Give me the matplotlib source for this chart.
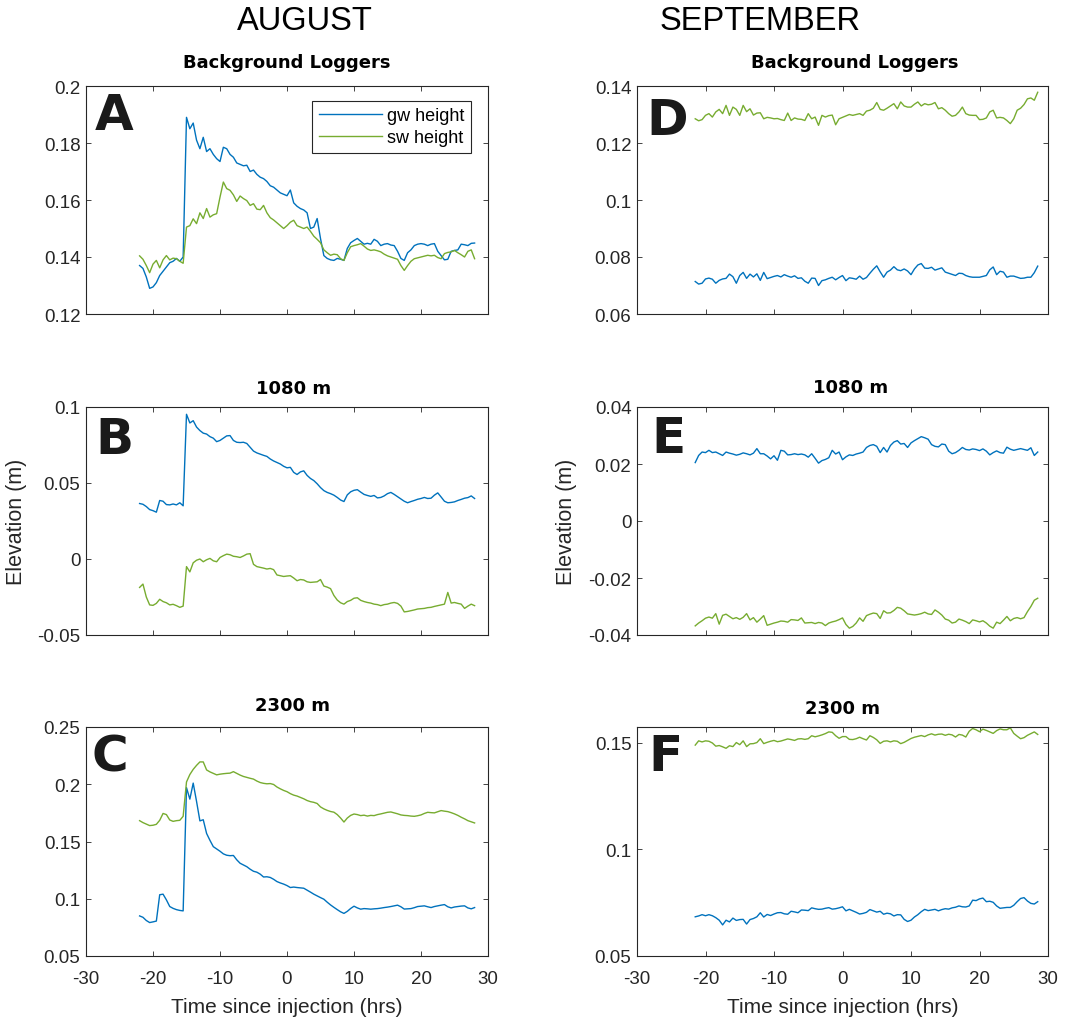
import numpy as np
import matplotlib as mpl
from matplotlib import pyplot as plt
from matplotlib.ticker import FuncFormatter

# Matlab-like look
mpl.rc('font', family=['Liberation Sans', 'DejaVu Sans'])
mpl.rc('axes', unicode_minus=False)

GW_COLOR = '#0072BD'
SW_COLOR = '#77AC30'
AX_COLOR = '#262626'

# Logger times (hrs since injection), one reading every 30 min
aug_time = np.arange(-22, 28.01, 0.5)
sep_time = np.arange(-21.5, 28.51, 0.5)

# AUGUST - background loggers (m)
aug_bg_gw = [0.137, 0.136, 0.133, 0.129, 0.1295, 0.131, 0.1335, 0.135, 0.1365, 0.138,
             0.1385, 0.1395, 0.1385, 0.140, 0.189, 0.185, 0.187, 0.181, 0.178, 0.182,
             0.177, 0.178, 0.176, 0.1745, 0.1735, 0.1785, 0.178, 0.176, 0.175, 0.173,
             0.1725, 0.172, 0.1722, 0.170, 0.1705, 0.169, 0.168, 0.1675, 0.1665, 0.165,
             0.1645, 0.1635, 0.1625, 0.162, 0.1615, 0.1635, 0.159, 0.1578, 0.157, 0.1565,
             0.1555, 0.150, 0.1505, 0.1535, 0.1465, 0.1405, 0.1395, 0.139, 0.1388, 0.1395,
             0.1392, 0.1388, 0.143, 0.145, 0.1458, 0.1465, 0.1455, 0.1445, 0.1448, 0.1445,
             0.1462, 0.1455, 0.144, 0.1445, 0.1447, 0.1442, 0.144, 0.142, 0.1395, 0.1388,
             0.1415, 0.1425, 0.144, 0.1445, 0.1447, 0.1445, 0.144, 0.1445, 0.1447, 0.142,
             0.1405, 0.139, 0.1392, 0.142, 0.1423, 0.1425, 0.1445, 0.1443, 0.144, 0.1448,
             0.1449]
aug_bg_sw = [0.1404, 0.1392, 0.137, 0.1345, 0.1375, 0.1388, 0.1362, 0.139, 0.1405, 0.139,
             0.1396, 0.1394, 0.1385, 0.1378, 0.1505, 0.151, 0.1534, 0.1517, 0.1555, 0.1535,
             0.157, 0.154, 0.1548, 0.1552, 0.161, 0.1663, 0.164, 0.1634, 0.1618, 0.1595,
             0.1614, 0.1605, 0.1598, 0.1581, 0.1587, 0.1568, 0.1566, 0.1581, 0.1555, 0.1538,
             0.153, 0.152, 0.151, 0.150, 0.151, 0.1522, 0.1529, 0.151, 0.1505, 0.150,
             0.1505, 0.149, 0.1473, 0.1462, 0.145, 0.1425, 0.1415, 0.1406, 0.141, 0.1408,
             0.1394, 0.1388, 0.1415, 0.1436, 0.144, 0.1443, 0.1447, 0.1438, 0.1428, 0.1423,
             0.1425, 0.1422, 0.1418, 0.141, 0.1404, 0.14, 0.1396, 0.1392, 0.137, 0.1353,
             0.137, 0.1385, 0.1394, 0.1397, 0.14, 0.1403, 0.1406, 0.1404, 0.1406, 0.1398,
             0.1394, 0.1412, 0.1416, 0.1418, 0.1423, 0.1415, 0.1408, 0.14, 0.142, 0.1425,
             0.1394]

# AUGUST - 1080 m
aug_1080_gw = [0.0365, 0.036, 0.0345, 0.0325, 0.0318, 0.0308, 0.0385, 0.038, 0.0358, 0.0356,
               0.0362, 0.0356, 0.037, 0.035, 0.0952, 0.0895, 0.091, 0.0868, 0.0845, 0.0828,
               0.0822, 0.0805, 0.0795, 0.0772, 0.078, 0.0795, 0.081, 0.0812, 0.078, 0.0768,
               0.0766, 0.0768, 0.076, 0.0735, 0.071, 0.0698, 0.069, 0.0682, 0.0675, 0.0658,
               0.0645, 0.0635, 0.0625, 0.061, 0.06, 0.0603, 0.057, 0.0556, 0.0573, 0.058,
               0.055, 0.053, 0.0516, 0.0495, 0.047, 0.045, 0.0438, 0.043, 0.042, 0.0405,
               0.0388, 0.0378, 0.0422, 0.0442, 0.0452, 0.0456, 0.044, 0.0425, 0.0418, 0.0412,
               0.0418, 0.0402, 0.0405, 0.0415, 0.043, 0.0438, 0.0425, 0.041, 0.0395, 0.038,
               0.037, 0.0378, 0.0385, 0.0393, 0.0398, 0.0405, 0.0398, 0.04, 0.042, 0.0435,
               0.0408, 0.038, 0.037, 0.0372, 0.0376, 0.0385, 0.0392, 0.04, 0.0404, 0.0415,
               0.0398]
aug_1080_sw = [-0.0187, -0.0165, -0.025, -0.0302, -0.0305, -0.0292, -0.0265, -0.028, -0.0288, -0.0302,
               -0.0298, -0.0307, -0.0318, -0.031, -0.005, -0.0085, -0.0025, -0.0008, 0.0, -0.0018,
               -0.0005, 0.0004, -0.0012, -0.0018, 0.001, 0.0022, 0.0032, 0.0028, 0.0018, 0.0015,
               0.001, 0.002, 0.0032, 0.0035, -0.0035, -0.005, -0.0055, -0.006, -0.0066, -0.0062,
               -0.007, -0.0105, -0.011, -0.0115, -0.0112, -0.011, -0.0125, -0.0143, -0.0135, -0.0138,
               -0.015, -0.0154, -0.0152, -0.015, -0.0135, -0.0178, -0.0185, -0.0195, -0.024, -0.027,
               -0.0288, -0.0297, -0.028, -0.0272, -0.0258, -0.0255, -0.0272, -0.028, -0.0286, -0.029,
               -0.0297, -0.03, -0.0307, -0.03, -0.0297, -0.029, -0.0286, -0.0292, -0.031, -0.0348,
               -0.0345, -0.034, -0.0335, -0.0329, -0.0327, -0.0325, -0.032, -0.0318, -0.0312, -0.0307,
               -0.0302, -0.0297, -0.022, -0.029, -0.0286, -0.0292, -0.0297, -0.0325, -0.031, -0.0297,
               -0.0307]

# AUGUST - 2300 m
aug_2300_gw = [0.085, 0.0838, 0.081, 0.0792, 0.0798, 0.0805, 0.1035, 0.104, 0.099, 0.0932,
               0.0916, 0.0905, 0.0898, 0.0894, 0.197, 0.187, 0.201, 0.185, 0.168, 0.169,
               0.157, 0.151, 0.1455, 0.1435, 0.1415, 0.1392, 0.138, 0.1376, 0.1378, 0.134,
               0.131, 0.1295, 0.128, 0.1258, 0.124, 0.1232, 0.1215, 0.119, 0.1192, 0.1186,
               0.117, 0.115, 0.1138, 0.1128, 0.1115, 0.1098, 0.1102, 0.1098, 0.1095, 0.1092,
               0.1075, 0.1058, 0.104, 0.1025, 0.101, 0.0996, 0.097, 0.0946, 0.0925, 0.0905,
               0.0886, 0.0872, 0.089, 0.0915, 0.0935, 0.092, 0.0909, 0.0914, 0.0912, 0.0909,
               0.0912, 0.0914, 0.0918, 0.0923, 0.0927, 0.0932, 0.0938, 0.0944, 0.093, 0.091,
               0.0912, 0.0914, 0.0922, 0.0932, 0.0935, 0.0938, 0.093, 0.0923, 0.0932, 0.0938,
               0.0944, 0.0949, 0.093, 0.092, 0.0928, 0.0932, 0.0936, 0.0938, 0.092, 0.0912,
               0.0923]
aug_2300_sw = [0.1682, 0.1665, 0.1652, 0.1639, 0.1642, 0.165, 0.1685, 0.1745, 0.1735, 0.1688,
               0.1676, 0.1682, 0.1685, 0.172, 0.202, 0.2085, 0.213, 0.2165, 0.2195, 0.2195,
               0.2125, 0.2108, 0.2095, 0.2082, 0.2088, 0.2092, 0.2095, 0.2097, 0.211, 0.2095,
               0.208, 0.2068, 0.206, 0.2052, 0.2045, 0.2028, 0.2015, 0.2008, 0.2004, 0.2006,
               0.1998, 0.1976, 0.196, 0.1946, 0.1935, 0.1918, 0.1905, 0.1897, 0.1885, 0.1873,
               0.1858, 0.1848, 0.1842, 0.1832, 0.1802, 0.1785, 0.1772, 0.1762, 0.1756, 0.1735,
               0.1705, 0.167, 0.1705, 0.1728, 0.174, 0.1735, 0.1726, 0.173, 0.1722, 0.1728,
               0.1726, 0.1735, 0.1741, 0.1748, 0.1755, 0.1758, 0.175, 0.1742, 0.1732, 0.1728,
               0.1726, 0.1722, 0.172, 0.1725, 0.1732, 0.1745, 0.1755, 0.1752, 0.175, 0.176,
               0.177, 0.1765, 0.1761, 0.1752, 0.1741, 0.1728, 0.1712, 0.1698, 0.1682, 0.1672,
               0.1662]

# SEPTEMBER - background loggers
sep_bg_gw = [0.0714, 0.0705, 0.0708, 0.0723, 0.0726, 0.0722, 0.0708, 0.0718, 0.0723, 0.0725,
             0.074, 0.0731, 0.0708, 0.0735, 0.0746, 0.0725, 0.074, 0.073, 0.0741, 0.0718,
             0.0746, 0.0724, 0.0728, 0.0732, 0.0735, 0.073, 0.0738, 0.0733, 0.0729, 0.0734,
             0.0725, 0.0727, 0.0715, 0.0708, 0.0726, 0.0725, 0.07, 0.0717, 0.072, 0.0725,
             0.0729, 0.072, 0.0728, 0.0735, 0.0717, 0.0727, 0.0725, 0.0722, 0.0733, 0.0722,
             0.0728, 0.0743, 0.0757, 0.0769, 0.0748, 0.0729, 0.0747, 0.0754, 0.0766, 0.0755,
             0.0752, 0.0758, 0.0751, 0.0738, 0.0758, 0.0772, 0.0777, 0.0761, 0.076, 0.0764,
             0.0754, 0.0758, 0.0762, 0.0747, 0.0743, 0.0739, 0.0735, 0.0743, 0.0742, 0.0735,
             0.0731, 0.0729, 0.0729, 0.0729, 0.0732, 0.0735, 0.0755, 0.0765, 0.0738, 0.075,
             0.0747, 0.0729, 0.0733, 0.0733, 0.0729, 0.0725, 0.0726, 0.0729, 0.0729, 0.0745,
             0.0768]
sep_bg_sw = [0.1285, 0.1278, 0.1282, 0.1297, 0.1303, 0.1291, 0.1309, 0.1318, 0.1303, 0.1332,
             0.1297, 0.1326, 0.1318, 0.1297, 0.1332, 0.131, 0.132, 0.1298, 0.1305, 0.1306,
             0.1285, 0.129, 0.1288, 0.1285, 0.1286, 0.1282, 0.1279, 0.1305, 0.1279, 0.1288,
             0.1284, 0.1283, 0.1279, 0.1303, 0.1285, 0.1291, 0.1262, 0.1297, 0.1291, 0.1296,
             0.1298, 0.1264, 0.1285, 0.129, 0.1295, 0.13, 0.1297, 0.13, 0.1303, 0.1297,
             0.1312, 0.1315, 0.1322, 0.1342, 0.1318, 0.1315, 0.1322, 0.133, 0.1338, 0.132,
             0.1344, 0.133, 0.1326, 0.1326, 0.1336, 0.1344, 0.133, 0.1338, 0.1334, 0.1336,
             0.1342, 0.132, 0.1324, 0.1315, 0.1303, 0.1294, 0.1297, 0.1309, 0.1326, 0.1303,
             0.1298, 0.1297, 0.1297, 0.1282, 0.1283, 0.1288, 0.1309, 0.1315, 0.1288, 0.129,
             0.1288, 0.1279, 0.1268, 0.1285, 0.1315, 0.1322, 0.1335, 0.1355, 0.1358, 0.135,
             0.1378]

# SEPTEMBER - 1080 m
sep_1080_gw = [0.0205, 0.023, 0.0242, 0.024, 0.0248, 0.024, 0.0242, 0.0236, 0.023, 0.0242,
               0.0238, 0.0235, 0.0231, 0.0234, 0.0239, 0.0236, 0.0232, 0.0238, 0.0254, 0.0236,
               0.0236, 0.0228, 0.0218, 0.0229, 0.0213, 0.0248, 0.0245, 0.0232, 0.0233, 0.0236,
               0.0233, 0.0235, 0.0232, 0.0224, 0.0236, 0.022, 0.0203, 0.0212, 0.0216, 0.0222,
               0.0248, 0.0235, 0.0242, 0.0215, 0.0225, 0.0232, 0.023, 0.0235, 0.0238, 0.0242,
               0.0258, 0.0265, 0.0268, 0.0262, 0.024, 0.0258, 0.0242, 0.0265, 0.0277, 0.0282,
               0.027, 0.0272, 0.0258, 0.0274, 0.0282, 0.0289, 0.0296, 0.0292, 0.0287, 0.0268,
               0.0262, 0.026, 0.027, 0.0268, 0.0245, 0.0236, 0.024, 0.0248, 0.0258, 0.0251,
               0.0249, 0.0253, 0.0251, 0.0247, 0.0253, 0.0245, 0.0232, 0.024, 0.0246, 0.024,
               0.0238, 0.0259, 0.0252, 0.0248, 0.0251, 0.0254, 0.0251, 0.0248, 0.0257, 0.023,
               0.0242]
sep_1080_sw = [-0.0368, -0.0358, -0.035, -0.0341, -0.0337, -0.0341, -0.0325, -0.0362, -0.0331, -0.0327,
               -0.0335, -0.0343, -0.0339, -0.0345, -0.0338, -0.0325, -0.0347, -0.0339, -0.0355, -0.0344,
               -0.0332, -0.0366, -0.0362, -0.0358, -0.0355, -0.0351, -0.0352, -0.0355, -0.0346, -0.0347,
               -0.0349, -0.034, -0.0358, -0.0357, -0.0356, -0.036, -0.0356, -0.0358, -0.0367, -0.0358,
               -0.0354, -0.0351, -0.0346, -0.034, -0.0363, -0.0376, -0.037, -0.0358, -0.034, -0.0352,
               -0.0332, -0.0327, -0.0323, -0.0325, -0.0342, -0.0315, -0.0323, -0.0322, -0.0314, -0.0303,
               -0.0306, -0.0315, -0.0326, -0.0328, -0.033, -0.0328, -0.0325, -0.032, -0.0326, -0.0328,
               -0.0312, -0.032, -0.033, -0.0344, -0.0348, -0.0358, -0.0355, -0.0344, -0.0348, -0.0353,
               -0.036, -0.0347, -0.035, -0.0354, -0.035, -0.0358, -0.0369, -0.0376, -0.0355, -0.036,
               -0.0348, -0.0335, -0.035, -0.0342, -0.0339, -0.0343, -0.0339, -0.0318, -0.03, -0.0278,
               -0.0271]

# SEPTEMBER - 2300 m
sep_2300_gw = [0.0684, 0.0688, 0.0694, 0.0689, 0.0694, 0.0689, 0.068, 0.0668, 0.0646, 0.0668,
               0.066, 0.0678, 0.0667, 0.0671, 0.0672, 0.065, 0.0671, 0.0676, 0.0684, 0.0703,
               0.0683, 0.0695, 0.069, 0.0697, 0.0703, 0.0704, 0.0698, 0.0696, 0.071, 0.0707,
               0.0703, 0.0716, 0.0715, 0.0713, 0.0726, 0.0722, 0.0719, 0.072, 0.0724, 0.0727,
               0.072, 0.0722, 0.0726, 0.0731, 0.0712, 0.0719, 0.0712, 0.0705, 0.0697, 0.07,
               0.0705, 0.0718, 0.0712, 0.0706, 0.071, 0.0696, 0.0701, 0.0698, 0.0688, 0.0694,
               0.0693, 0.0672, 0.0662, 0.0668, 0.0683, 0.0694, 0.0708, 0.0719, 0.0713, 0.0716,
               0.0719, 0.0712, 0.0718, 0.0722, 0.072, 0.0726, 0.0729, 0.0735, 0.0731, 0.073,
               0.0735, 0.0762, 0.076, 0.0768, 0.0772, 0.0755, 0.0757, 0.0752, 0.0735, 0.0724,
               0.0726, 0.0728, 0.0728, 0.0738, 0.0755, 0.077, 0.0774, 0.0758, 0.0747, 0.0744,
               0.0755]
sep_2300_sw = [0.149, 0.151, 0.1505, 0.151, 0.1508, 0.15, 0.1485, 0.1488, 0.1482, 0.1475,
               0.1487, 0.1483, 0.1502, 0.1492, 0.151, 0.1483, 0.1496, 0.1497, 0.1502, 0.152,
               0.1497, 0.1503, 0.1508, 0.1512, 0.1506, 0.1509, 0.1514, 0.1519, 0.1516, 0.1512,
               0.1519, 0.152, 0.1517, 0.152, 0.1534, 0.1529, 0.1533, 0.1538, 0.1544, 0.1552,
               0.155, 0.1534, 0.1522, 0.153, 0.153, 0.1517, 0.1516, 0.152, 0.1527, 0.152,
               0.1514, 0.1534, 0.1526, 0.1515, 0.1498, 0.1508, 0.151, 0.1505, 0.151, 0.1508,
               0.1497, 0.1503, 0.1512, 0.1521, 0.1527, 0.1531, 0.1535, 0.153, 0.1538, 0.1543,
               0.1537, 0.1541, 0.1542, 0.1536, 0.1541, 0.1538, 0.1528, 0.154, 0.1537, 0.1528,
               0.1555, 0.1568, 0.1562, 0.1553, 0.1565, 0.1559, 0.1552, 0.1545, 0.1558, 0.1566,
               0.1562, 0.1562, 0.1571, 0.1545, 0.1532, 0.152, 0.1525, 0.1536, 0.1544, 0.1552,
               0.154]

panel_letters = ['A', 'B', 'C', 'D', 'E', 'F']
row_titles = ['Background Loggers', '1080 m', '2300 m']
month_names = ['AUGUST', 'SEPTEMBER']
x_ticks = [-30, -20, -10, 0, 10, 20, 30]


def matlab_fmt(v, pos):
    return f'{round(v, 4) + 0.0:g}'


def style_axis(ax, yticks, ylim, bottom_row):
    ax.set_xlim(-30, 30)
    ax.set_xticks(x_ticks)
    ax.set_ylim(*ylim)
    ax.set_yticks(yticks)
    ax.yaxis.set_major_formatter(FuncFormatter(matlab_fmt))
    ax.tick_params(direction='in', top=True, right=True, length=3.5, width=0.6,
                   colors=AX_COLOR, labelsize=13.5)
    ax.tick_params(axis='x', pad=10, labelbottom=bottom_row)
    ax.tick_params(axis='y', pad=4)
    for spine in ax.spines.values():
        spine.set_color(AX_COLOR)
        spine.set_linewidth(0.8)


fig = plt.figure(figsize=(10.68, 10.2), dpi=100)

# axes boxes in pixels: left, top, right, bottom
col_px = [(86, 488), (637, 1048)]
row_px = [(87, 315), (408, 636), (728, 957)]


def add_panel(col, row):
    x0, x1 = col_px[col]
    y0, y1 = row_px[row]
    return fig.add_axes([x0 / 1068, 1 - y1 / 1020, (x1 - x0) / 1068, (y1 - y0) / 1020])


series = [
    [(aug_time, aug_bg_gw, aug_bg_sw), (aug_time, aug_1080_gw, aug_1080_sw), (aug_time, aug_2300_gw, aug_2300_sw)],
    [(sep_time, sep_bg_gw, sep_bg_sw), (sep_time, sep_1080_gw, sep_1080_sw), (sep_time, sep_2300_gw, sep_2300_sw)],
]
y_ticks = [
    [[0.12, 0.14, 0.16, 0.18, 0.2], [-0.05, 0, 0.05, 0.1], [0.05, 0.1, 0.15, 0.2, 0.25]],
    [[0.06, 0.08, 0.1, 0.12, 0.14], [-0.04, -0.02, 0, 0.02, 0.04], [0.05, 0.1, 0.15]],
]
y_lims = [
    [(0.12, 0.2), (-0.05, 0.1), (0.05, 0.25)],
    [(0.06, 0.14), (-0.04, 0.04), (0.05, 0.1575)],
]
title_pad = [[13.5, 10.3, 12.5], [13.5, 10.6, 10]]
title_x = [[0.5, 0.517, 0.513], [0.53, 0.52, 0.5]]
letter_off = [[(9, 5), (9, 8), (5, 5)], [(9, 10), (14, 7), (11, 5)]]

for col in range(2):
    for row in range(3):
        ax = add_panel(col, row)
        t, gw, sw = series[col][row]
        ax.plot(t, gw, color=GW_COLOR, lw=1.0, label='gw height')
        ax.plot(t, sw, color=SW_COLOR, lw=1.0, label='sw height')
        style_axis(ax, y_ticks[col][row], y_lims[col][row], row == 2)
        ax.set_title(row_titles[row], family='DejaVu Sans', fontweight='bold', fontsize=13,
                     pad=title_pad[col][row], x=title_x[col][row])
        dx, dy = letter_off[col][row]
        ax.annotate(panel_letters[col * 3 + row], xy=(0, 1), xycoords='axes fraction',
                    xytext=(dx * 0.72, -dy * 0.72), textcoords='offset points',
                    ha='left', va='top', family='DejaVu Sans', fontweight='bold',
                    fontsize=36, color='#1a1a1a')
        if row == 1:
            ax.set_ylabel('Elevation (m)', fontsize=15.5, color=AX_COLOR)
            ax.yaxis.set_label_coords(-0.147, 0.5)
        if row == 2:
            ax.set_xlabel('Time since injection (hrs)', fontsize=15, color=AX_COLOR)
            ax.xaxis.set_label_coords(0.5, -0.18)
        if col == 0 and row == 0:
            leg = ax.legend(loc='upper right', bbox_to_anchor=(0.958, 0.936), borderaxespad=0,
                            fontsize=13, handlelength=3.5, handletextpad=0.3,
                            labelspacing=0.3, borderpad=0.35, fancybox=False, framealpha=1)
            leg.get_frame().set_edgecolor(AX_COLOR)
            leg.get_frame().set_linewidth(0.8)

fig.text(305 / 1068, 1 - 21.5 / 1020, month_names[0], ha='center', va='center', fontsize=23.5)
fig.text(760 / 1068, 1 - 21.5 / 1020, month_names[1], ha='center', va='center', fontsize=23.5)

fig.savefig('out.png', dpi=100)
